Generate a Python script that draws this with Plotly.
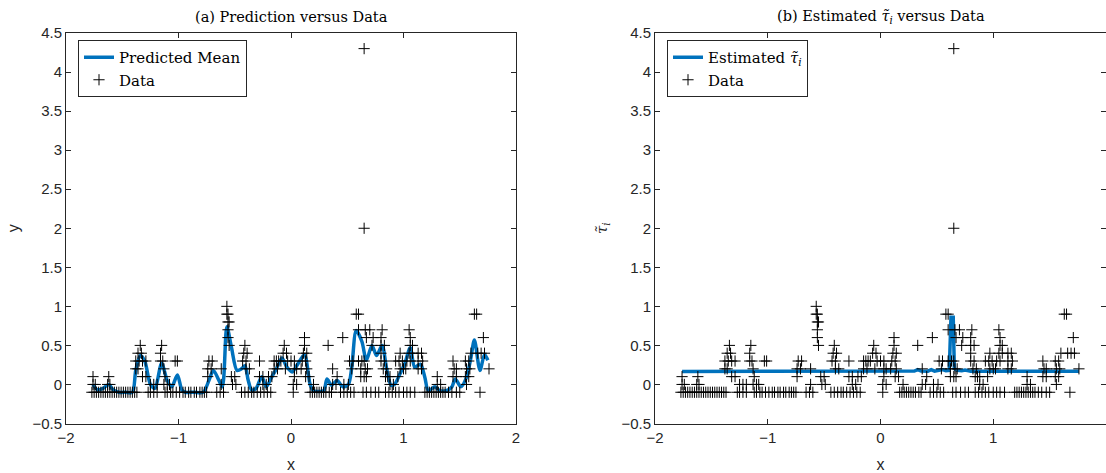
import plotly.graph_objects as go

# ---- observed data: x positions grouped by their (discretised) y level ----
levels = [-0.1, 0.0, 0.1, 0.2, 0.3, 0.4, 0.5, 0.6, 0.7, 0.8, 0.9, 1.0]
x_by_level = [
    # -0.1
    [-1.77, -1.75, -1.73, -1.71, -1.69, -1.67, -1.65, -1.63, -1.61, -1.59, -1.57,
     -1.55, -1.53, -1.51, -1.49, -1.47, -1.45, -1.43, -1.41, -1.39, -1.37,
     -1.27, -1.25, -1.22, -1.19,
     -1.12, -1.10, -1.07, -1.05, -1.02, -0.99, -0.96, -0.94, -0.91, -0.89, -0.86,
     -0.84, -0.81, -0.79, -0.77, -0.75,
     -0.66, -0.63, -0.60,
     -0.44, -0.41, -0.38, -0.35, -0.33, -0.30, -0.27, -0.24, -0.21, -0.18,
     0.02,
     0.17, 0.19, 0.21, 0.23, 0.25, 0.27, 0.29, 0.31, 0.34, 0.36,
     0.44, 0.47, 0.50, 0.53, 0.56,
     0.64, 0.67, 0.71, 0.75, 0.78,
     0.84, 0.87, 0.90, 0.93, 0.96, 1.00, 1.03, 1.06, 1.10,
     1.19, 1.21, 1.23, 1.25, 1.27, 1.29, 1.31, 1.33, 1.35, 1.37, 1.40, 1.43,
     1.47, 1.50,
     1.68],
    # 0.0
    [-1.76, -1.74, -1.63, -1.61, -1.25, -1.22, -1.19, -1.13, -1.10, -1.08, -0.62,
     -0.52, -0.49, -0.25, -0.22, 0.02, 0.05, 0.20, 0.37, 0.40, 0.47, 0.51, 0.88,
     0.91, 1.30, 1.33, 1.56],
    # 0.1
    [-1.76, -1.62, -1.32, -1.29, -1.12, -0.74, -0.53, -0.50, -0.28, -0.25, -0.20,
     -0.17, 0.03, 0.13, 0.16, 0.41, 0.62, 0.65, 0.67, 0.84, 0.86, 0.88, 0.95,
     1.30, 1.44, 1.47, 1.55, 1.58],
    # 0.2
    [-1.38, -1.36, -1.13, -0.74, -0.71, -0.62, -0.40, -0.37, -0.15, -0.12, -0.05,
     0.03, 0.05, 0.09, 0.14, 0.37, 0.54, 0.62, 0.66, 0.68, 0.82, 0.85, 0.97, 1.00,
     1.02, 1.13, 1.16, 1.45, 1.47, 1.56, 1.59, 1.76],
    # 0.3
    [-1.38, -1.35, -1.32, -1.29, -1.16, -1.14, -1.03, -1.01, -0.73, -0.70, -0.43,
     -0.40, -0.28, -0.15, -0.13, -0.11, -0.09, -0.03, 0.00, 0.03, 0.10, 0.13,
     0.52, 0.55, 0.60, 0.63, 0.65, 0.80, 0.83, 0.93, 0.96, 0.99, 1.03, 1.06,
     1.13, 1.17, 1.44, 1.55, 1.58],
    # 0.4
    [-1.36, -1.33, -1.16, -0.42, -0.39, -0.07, -0.04, 0.11, 0.14, 0.80, 0.97,
     1.05, 1.08, 1.13, 1.16, 1.60, 1.66, 1.69, 1.72],
    # 0.5
    [-1.34, -1.15, -0.55, -0.41, -0.06, 0.12, 0.33, 0.72, 0.80, 0.83, 1.06, 1.08],
    # 0.6
    [-0.56, 0.12, 0.46, 0.67, 0.73, 0.80, 1.06, 1.71],
    # 0.7
    [-0.56, 0.60, 0.66, 0.70, 0.81, 1.05],
    # 0.8
    [-0.55, -0.56],
    # 0.9
    [-0.57, -0.56, 0.58, 0.60, 1.63, 1.65],
    # 1.0
    [-0.57],
]
outlier_x = [0.65, 0.65]
outlier_y = [2.0, 4.3]

# ---- predicted mean (panel a) ----
pred_x = [-1.76, -1.72, -1.67, -1.62, -1.58, -1.53, -1.47, -1.41, -1.38, -1.34,
          -1.30, -1.25, -1.21, -1.15, -1.10, -1.06, -1.01, -0.97, -0.94, -0.86,
          -0.78, -0.73, -0.69, -0.64, -0.61, -0.57, -0.53, -0.48, -0.44, -0.41,
          -0.38, -0.35, -0.31, -0.26, -0.22, -0.17, -0.13, -0.08, -0.04, 0.01,
          0.06, 0.12, 0.17, 0.20, 0.29, 0.32, 0.36, 0.41, 0.46, 0.51,
          0.54, 0.58, 0.63, 0.67, 0.72, 0.76, 0.81, 0.85, 0.89, 0.92,
          0.97, 1.01, 1.06, 1.10, 1.15, 1.19, 1.22, 1.28, 1.32, 1.38,
          1.43, 1.46, 1.51, 1.56, 1.60, 1.63, 1.68, 1.72, 1.75]
pred_y = [0.00, -0.07, -0.05, 0.00, -0.07, -0.10, -0.10, -0.10, 0.18, 0.37,
          0.30, 0.00, -0.05, 0.27, 0.05, -0.03, 0.12, -0.07, -0.10, -0.10,
          -0.10, 0.05, 0.18, 0.05, -0.03, 0.74, 0.48, 0.18, 0.20, 0.24,
          0.05, -0.07, -0.05, 0.10, -0.03, 0.10, 0.20, 0.34, 0.23, 0.16,
          0.26, 0.38, 0.00, -0.08, -0.08, 0.07, -0.01, 0.05, -0.03, 0.00,
          0.22, 0.69, 0.55, 0.31, 0.50, 0.37, 0.50, 0.20, -0.01, 0.00,
          0.14, 0.26, 0.47, 0.22, 0.26, 0.09, -0.08, -0.03, -0.08, -0.08,
          -0.03, 0.07, -0.03, 0.09, 0.35, 0.57, 0.18, 0.38, 0.31]

# ---- estimated tau (panel b) ----
tau_x = [-1.76, -1.0, -0.5, 0.0, 0.2, 0.30, 0.33, 0.36, 0.42, 0.45, 0.48, 0.52,
         0.55, 0.58, 0.61, 0.625, 0.645, 0.655, 0.68, 0.72, 0.75, 0.80, 1.0,
         1.2, 1.4, 1.6, 1.76]
tau_y = [0.165, 0.166, 0.167, 0.168, 0.170, 0.172, 0.19, 0.172, 0.170, 0.19,
         0.170, 0.175, 0.19, 0.175, 0.18, 0.86, 0.86, 0.20, 0.18, 0.175, 0.185,
         0.170, 0.170, 0.168, 0.168, 0.167, 0.170]

obs_x, obs_y = [], []
for lev, xs in zip(levels, x_by_level):
    obs_x += xs
    obs_y += [lev] * len(xs)
obs_x += outlier_x
obs_y += outlier_y

BLUE = "#0072BD"
AXC = "#262626"
SERIF = "DejaVu Serif, serif"
SANS = "Liberation Sans, Arial, sans-serif"
TAU = '<i>τ̃</i><sub><i>i</i></sub>'

fig = go.Figure()

fig.add_trace(go.Scatter(x=pred_x, y=pred_y, mode="lines", name="Predicted Mean",
                         line=dict(color=BLUE, width=3.5, shape="spline", smoothing=0.8),
                         xaxis="x", yaxis="y", legend="legend"))
fig.add_trace(go.Scatter(x=obs_x, y=obs_y, mode="markers", name="Data",
                         marker=dict(symbol="cross-thin", size=8, color="black",
                                     line=dict(color="black", width=1)),
                         xaxis="x", yaxis="y", legend="legend"))

fig.add_trace(go.Scatter(x=tau_x, y=tau_y, mode="lines",
                         name="Estimated " + TAU,
                         line=dict(color=BLUE, width=3.5),
                         xaxis="x2", yaxis="y2", legend="legend2"))
fig.add_trace(go.Scatter(x=obs_x, y=obs_y, mode="markers", name="Data",
                         marker=dict(symbol="cross-thin", size=8, color="black",
                                     line=dict(color="black", width=1)),
                         xaxis="x2", yaxis="y2", legend="legend2"))

W, H = 1106, 473
def px(p):
    return p / W
def py(p):
    return (H - p) / H

ybot, ytop = py(423.5), py(33)

axis_common = dict(showline=True, linecolor=AXC, linewidth=1, automargin=False,
                   ticks="inside", ticklen=5, tickcolor=AXC, showgrid=False,
                   zeroline=False, tickfont=dict(family=SANS, size=15, color=AXC))

legend_common = dict(yanchor="top", xanchor="left", y=py(40),
                     bgcolor="white", bordercolor=AXC, borderwidth=1,
                     font=dict(family=SERIF, size=15, color="black"),
                     tracegroupgap=0, itemwidth=30)

fig.update_layout(
    width=W, height=H,
    margin=dict(l=0, r=0, t=0, b=0),
    paper_bgcolor="white", plot_bgcolor="white",
    xaxis=dict(domain=[px(66), px(516)], range=[-2, 2], tickvals=[-2, -1, 0, 1, 2],
               title=dict(text="x", font=dict(family=SANS, size=16, color=AXC), standoff=14),
               anchor="y", mirror="allticks", **axis_common),
    yaxis=dict(domain=[ybot, ytop], range=[-0.5, 4.5], dtick=0.5,
               title=dict(text="y", font=dict(family=SANS, size=16, color=AXC), standoff=8),
               anchor="x", mirror="allticks", **axis_common),
    xaxis2=dict(domain=[px(655), 1.0], range=[-2, -2 + (W - 655) / 112.75],
                tickvals=[-2, -1, 0, 1, 2],
                title=dict(text="x", font=dict(family=SANS, size=16, color=AXC), standoff=14),
                anchor="y2", mirror="allticks", **axis_common),
    yaxis2=dict(domain=[ybot, ytop], range=[-0.5, 4.5], dtick=0.5,
                title=dict(text=TAU, font=dict(family=SERIF, size=15, color=AXC), standoff=10),
                anchor="x2", mirror="allticks", **axis_common),
    legend=dict(x=px(78), **legend_common),
    legend2=dict(x=px(667), **legend_common),
    showlegend=True,
    annotations=[
        dict(text="(a) Prediction versus Data", x=px((66 + 516) / 2), y=py(17),
             xref="paper", yref="paper", xanchor="center", yanchor="middle",
             showarrow=False, font=dict(family=SERIF, size=14.5, color="black")),
        dict(text="(b) Estimated " + TAU + " versus Data",
             x=px((655 + 1107) / 2), y=py(17),
             xref="paper", yref="paper", xanchor="center", yanchor="middle",
             showarrow=False, font=dict(family=SERIF, size=14.5, color="black")),
    ],
)

fig.write_html("out.html")
